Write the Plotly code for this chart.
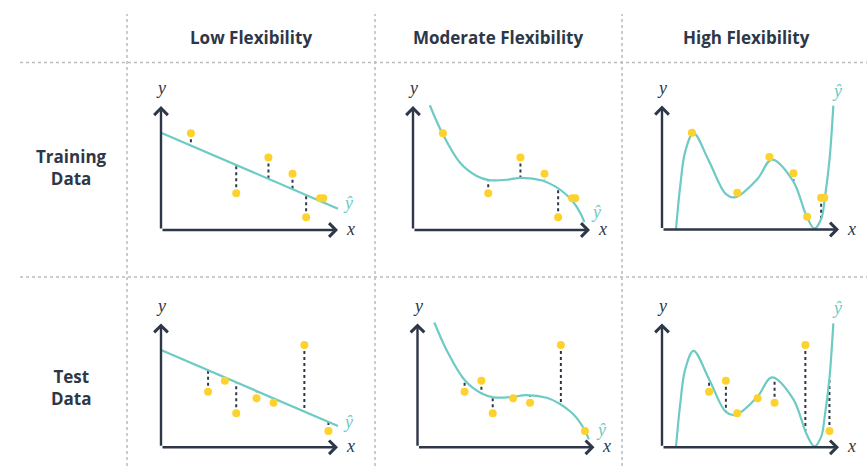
import plotly.graph_objects as go

W, H = 867, 466
S = 17.7  # px per data unit in every panel

# data (in panel units: x 0-10, y 0-7)
train_x = [1.69, 4.25, 6.07, 7.43, 8.2, 8.99, 9.17]
train_y = [5.46, 2.07, 4.09, 3.18, 0.72, 1.79, 1.79]
test_x = [2.66, 3.61, 4.25, 5.4, 6.36, 8.1, 9.46]
test_y = [3.14, 3.76, 1.92, 2.77, 2.52, 5.78, 0.92]

low_curve_x = [0, 10]
low_curve_y = [5.5, 1.2]
mid_curve_x = [0.95, 1.69, 2.66, 3.6, 4.3, 5.4, 6.1, 7.3, 8.05, 8.6, 9.0, 9.46, 9.68]
mid_curve_y = [7.05, 5.4, 3.8, 3.05, 2.82, 2.85, 2.95, 2.8, 2.45, 2.05, 1.65, 0.95, 0.45]
high_curve_x = [0.79, 1.03, 1.31, 1.78, 2.66, 3.61, 4.15, 5.39, 6.2, 7.4, 8.18, 8.61, 9.0, 9.2, 9.46, 9.68]
high_curve_y = [0.0, 2.45, 4.4, 5.45, 3.85, 2.0, 1.82, 2.85, 3.95, 2.75, 0.72, 0.05, 0.62, 1.79, 3.9, 7.0]

# fitted value at each point (bottom end of the residual line)
low_train_fit = [4.8, 3.7, 2.9, 2.3, 2.0, 1.65, 1.6]
low_test_fit = [4.35, 3.95, 3.65, 3.15, 2.75, 2.0, 1.45]
mid_train_fit = [5.4, 2.82, 2.95, 2.82, 2.4, 1.65, 1.55]
mid_test_fit = [3.8, 3.05, 2.82, 2.85, 2.9, 2.45, 0.95]
high_train_fit = [5.45, 1.95, 3.95, 2.75, 0.72, 0.62, 1.79]
high_test_fit = [3.85, 2.0, 1.82, 2.85, 3.9, 0.9, 3.9]

col_titles = ["Low Flexibility", "Moderate Flexibility", "High Flexibility"]
row_titles = ["Training<br>Data", "Test<br>Data"]

TEXT = "#2d3748"
TEAL = "#6dcbc3"
YELLOW = "#fdd22e"
GRID = "#b9bcc0"

curves = [(low_curve_x, low_curve_y), (mid_curve_x, mid_curve_y), (high_curve_x, high_curve_y)]
fits = [[low_train_fit, low_test_fit], [mid_train_fit, mid_test_fit], [high_train_fit, high_test_fit]]
points = [(train_x, train_y), (test_x, test_y)]

# panel origins in pixels (left/bottom corner of the drawn axes)
origins = [[(161, 230), (413, 230), (662, 229.5)],
           [(161, 447.3), (417.5, 447.3), (662, 447.3)]]
# hat label position in data units per panel
hat_pos = [[(10.55, 1.55), (10.35, 1.0), (9.9, 7.85)],
           [(10.55, 1.45), (10.35, 0.95), (9.9, 7.85)]]

XR = [-0.4, 11.2]
YR = [-0.4, 8.6]

fig = go.Figure()
annotations = []
shapes = []
n = 0
for r in range(2):
    for c in range(3):
        n += 1
        xa = "x" if n == 1 else f"x{n}"
        ya = "y" if n == 1 else f"y{n}"
        ox, oy = origins[r][c]
        fig.update_layout(**{
            ("xaxis" if n == 1 else f"xaxis{n}"): dict(
                domain=[(ox + XR[0] * S) / W, (ox + XR[1] * S) / W],
                range=XR, visible=False, fixedrange=True, anchor=ya),
            ("yaxis" if n == 1 else f"yaxis{n}"): dict(
                domain=[(H - oy + YR[0] * S) / H, (H - oy + YR[1] * S) / H],
                range=YR, visible=False, fixedrange=True, anchor=xa),
        })
        px, py = points[r]
        fit = fits[c][r]
        rx, ry = [], []
        for xi, yi, fi in zip(px, py, fit):
            rx += [xi, xi, None]
            ry += [yi, fi, None]
        fig.add_trace(go.Scatter(x=rx, y=ry, mode="lines", xaxis=xa, yaxis=ya,
                                 line=dict(color=TEXT, width=2, dash="dot"),
                                 hoverinfo="skip", showlegend=False))
        cx, cy = curves[c]
        fig.add_trace(go.Scatter(x=cx, y=cy, mode="lines", xaxis=xa, yaxis=ya,
                                 line=dict(color=TEAL, width=2.2, shape="spline", smoothing=1.0),
                                 hoverinfo="skip", showlegend=False))
        fig.add_trace(go.Scatter(x=px, y=py, mode="markers", xaxis=xa, yaxis=ya,
                                 marker=dict(color=YELLOW, size=8), cliponaxis=False,
                                 showlegend=False))
        # axes with arrowheads
        for tx, ty in [(10, 0), (0, 7)]:
            annotations.append(dict(x=tx, y=ty, ax=0, ay=0, xref=xa, yref=ya, axref=xa, ayref=ya,
                                    text="", showarrow=True, arrowhead=4, arrowsize=1.1,
                                    arrowwidth=2.4, arrowcolor=TEXT, standoff=0, startstandoff=0))
        serif = dict(family="Liberation Serif", size=18, color=TEXT)
        annotations.append(dict(x=0, y=8.0, xref=xa, yref=ya, text="<i>y</i>", showarrow=False, font=serif))
        annotations.append(dict(x=10.7, y=0.05, xref=xa, yref=ya, text="<i>x</i>", showarrow=False, font=serif))
        hx, hy = hat_pos[r][c]
        annotations.append(dict(x=hx, y=hy, xref=xa, yref=ya, text="<i>ŷ</i>", showarrow=False,
                                font=dict(family="Liberation Serif", size=18, color=TEAL)))

head_font = dict(family="Open Sans", size=17, color=TEXT)
for c, (title, cx) in enumerate(zip(col_titles, [251, 498, 746])):
    annotations.append(dict(x=cx / W, y=1 - 38 / H, xref="paper", yref="paper", text=f"<b>{title}</b>",
                            xanchor="center", yanchor="middle", showarrow=False, font=head_font))
for title, cy in zip(row_titles, [168, 387]):
    annotations.append(dict(x=71 / W, y=1 - cy / H, xref="paper", yref="paper", text=f"<b>{title}</b>",
                            xanchor="center", yanchor="middle", showarrow=False, font=head_font))

# dotted table grid
for gx in [127, 375, 622]:
    shapes.append(dict(type="line", xref="paper", yref="paper", x0=gx / W, x1=gx / W,
                       y0=0, y1=1 - 14 / H, line=dict(color=GRID, width=1.5, dash="dot")))
for gy in [62.5, 277]:
    shapes.append(dict(type="line", xref="paper", yref="paper", x0=20 / W, x1=1,
                       y0=1 - gy / H, y1=1 - gy / H, line=dict(color=GRID, width=1.5, dash="dot")))

fig.update_layout(width=W, height=H, margin=dict(l=0, r=0, t=0, b=0),
                  paper_bgcolor="white", plot_bgcolor="white",
                  annotations=annotations, shapes=shapes, showlegend=False)

# drop the page's default body margin so the figure sits at the window's corner
fig.write_html("out.html", config={"displayModeBar": False},
               post_script="document.body.style.margin='0';")
